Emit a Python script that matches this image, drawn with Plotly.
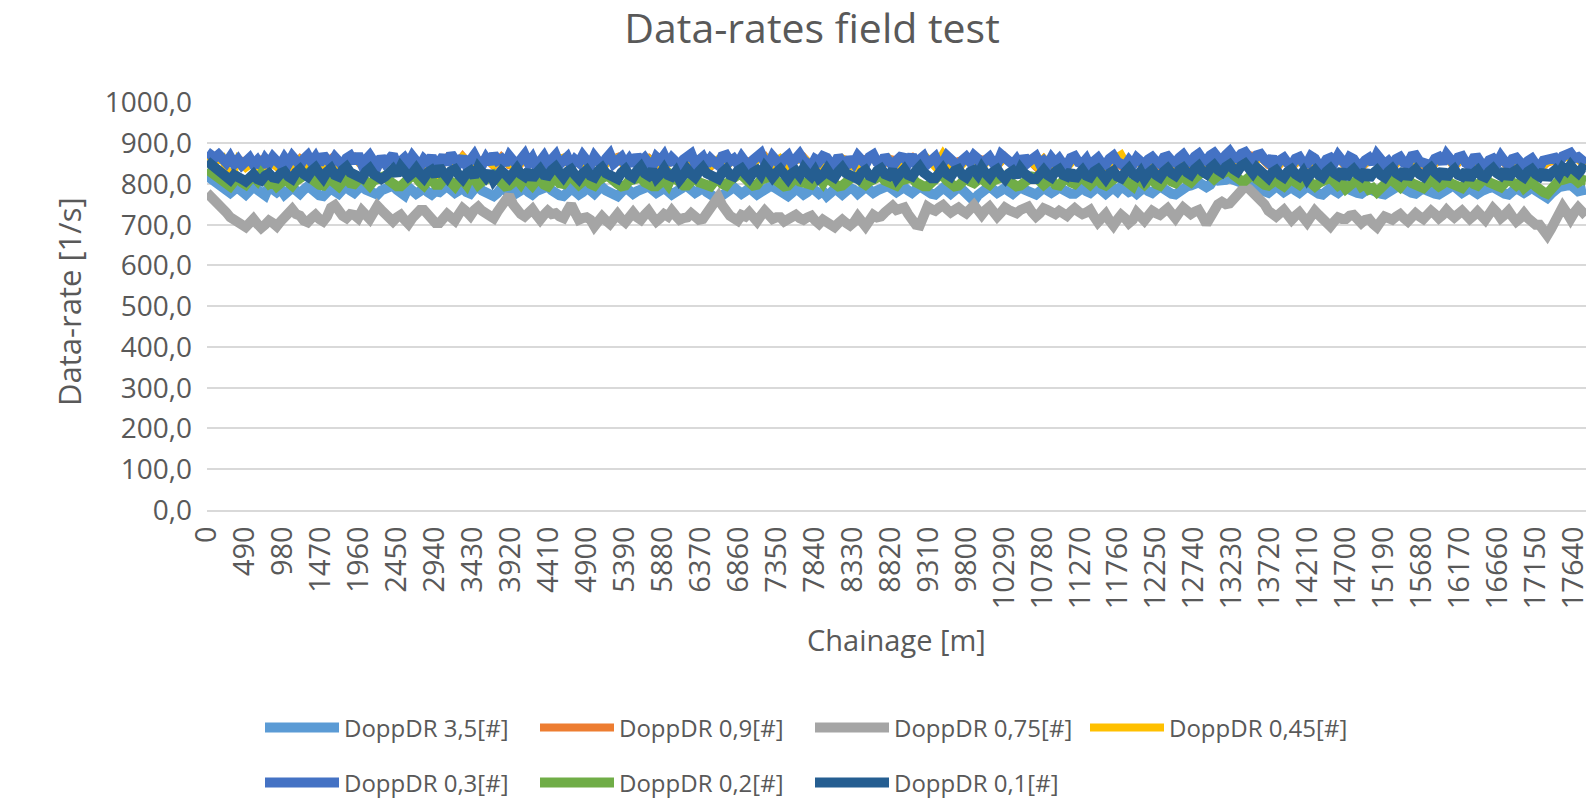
import plotly.graph_objects as go

# Chainage [m]: visible series read every 50 m, the two mostly hidden ones every 100 m
chainage = list(range(0, 17801, 50))
chainage_coarse = list(range(0, 17801, 100))

x_tick_vals = list(range(0, 17641, 490))
x_tick_labels = [str(v) for v in x_tick_vals]
y_tick_vals = list(range(0, 1001, 100))
y_tick_labels = [f"{v},0" for v in y_tick_vals]

dr_3_5 = [
    820, 812, 804, 798, 792, 784, 778, 786, 790, 782, 774, 784, 792, 786, 778, 772, 794, 786, 780, 788,
    774, 782, 790, 784, 776, 786, 794, 788, 778, 772, 770, 780, 790, 782, 776, 786, 792, 784, 778, 788,
    794, 786, 780, 776, 774, 784, 790, 796, 796, 786, 778, 772, 792, 784, 776, 782, 790, 780, 774, 782,
    780, 788, 794, 786, 778, 784, 790, 780, 776, 788, 792, 784, 778, 772, 770, 778, 790, 784, 794, 788,
    778, 784, 790, 780, 774, 782, 788, 792, 794, 784, 776, 772, 770, 780, 788, 782, 774, 780, 790, 784,
    776, 786, 792, 784, 778, 772, 770, 780, 790, 784, 776, 782, 788, 792, 794, 786, 778, 784, 790, 782,
    774, 780, 788, 792, 794, 786, 778, 784, 790, 780, 776, 770, 762, 772, 778, 786, 792, 784, 776, 782,
    790, 782, 774, 780, 788, 792, 794, 786, 778, 772, 770, 778, 788, 782, 774, 780, 790, 784, 776, 782,
    770, 778, 788, 782, 774, 782, 790, 786, 776, 784, 792, 786, 778, 784, 790, 792, 794, 786, 780, 786,
    792, 784, 778, 786, 794, 788, 780, 776, 774, 782, 790, 784, 776, 784, 792, 786, 778, 770, 758, 772,
    780, 788, 794, 786, 778, 784, 790, 782, 776, 784, 792, 786, 780, 776, 774, 782, 790, 784, 778, 784,
    794, 786, 780, 776, 776, 784, 790, 782, 778, 786, 792, 784, 776, 784, 790, 782, 794, 788, 780, 784,
    776, 784, 790, 782, 778, 786, 794, 788, 780, 776, 774, 782, 790, 794, 796, 800, 804, 798, 792, 798,
    812, 808, 806, 810, 814, 810, 808, 804, 800, 796, 792, 788, 784, 780, 778, 786, 794, 788, 780, 786,
    792, 784, 778, 786, 794, 788, 780, 776, 774, 782, 790, 784, 778, 786, 794, 786, 780, 778, 776, 782,
    790, 784, 778, 776, 774, 782, 790, 792, 794, 786, 780, 778, 776, 784, 790, 784, 778, 776, 774, 782,
    790, 792, 794, 786, 778, 784, 790, 782, 776, 782, 788, 790, 792, 786, 778, 776, 774, 782, 790, 784,
    778, 784, 792, 784, 776, 770, 766, 776, 788, 792, 794, 796, 798, 790, 782, 784, 786,
]

dr_0_9 = [
    872, 864, 862, 852, 858, 856, 854, 860, 856, 842,
    860, 840, 862, 844, 866, 846, 862, 840, 858, 866,
    844, 862, 856, 858, 864, 842, 860, 846, 856, 860,
    840, 864, 844, 868, 846, 856, 862, 844, 866, 846,
    840, 860, 866, 842, 854, 858, 864, 856, 860, 844,
    862, 852, 858, 866, 842, 860, 856, 864, 846, 838,
    862, 844, 836, 858, 866, 842, 860, 860, 864, 846,
    856, 860, 868, 842, 862, 858, 858, 866, 844, 852,
    858, 840, 862, 856, 858, 858, 864, 842, 862, 858,
    858, 866, 842, 862, 854, 860, 844, 856, 858, 864,
    860, 860, 844, 866, 846, 852, 860, 842, 862, 840,
    858, 852, 862, 844, 850, 858, 840, 860, 844, 846,
    858, 840, 860, 844, 862, 818, 866, 848, 868, 850,
    870, 852, 874, 856, 872, 870, 866, 846, 838, 858,
    840, 860, 844, 862, 838, 858, 864, 842, 860, 840,
    858, 866, 842, 838, 860, 844, 864, 846, 840, 860,
    866, 842, 862, 840, 858, 838, 856, 862, 840, 858,
    838, 856, 836, 852, 858, 862, 870, 860, 844,
]

dr_0_75 = [
    778, 770, 760, 752, 744, 730, 718, 712, 708, 700, 694, 704, 714, 702, 692, 700, 710, 704, 696, 708,
    720, 732, 738, 726, 722, 710, 706, 716, 724, 714, 708, 720, 742, 748, 730, 722, 716, 726, 724, 716,
    734, 724, 714, 730, 746, 736, 724, 714, 708, 718, 724, 712, 702, 716, 728, 736, 736, 722, 710, 704,
    704, 714, 726, 718, 710, 726, 740, 732, 722, 736, 744, 734, 726, 720, 716, 732, 748, 756, 772, 750,
    734, 726, 720, 730, 738, 724, 712, 724, 734, 726, 728, 720, 716, 734, 750, 730, 712, 716, 718, 712,
    696, 708, 720, 710, 702, 714, 726, 714, 706, 718, 730, 718, 712, 724, 734, 720, 708, 716, 726, 720,
    734, 722, 712, 716, 718, 728, 722, 712, 714, 726, 736, 750, 768, 748, 730, 722, 716, 710, 724, 720,
    730, 718, 708, 722, 734, 724, 714, 718, 718, 708, 716, 720, 724, 716, 712, 718, 722, 710, 702, 712,
    706, 698, 694, 704, 712, 704, 698, 706, 720, 708, 696, 710, 724, 718, 720, 730, 740, 746, 736, 740,
    742, 726, 706, 700, 698, 720, 744, 738, 734, 742, 748, 738, 730, 736, 742, 734, 728, 738, 748, 736,
    724, 736, 744, 732, 720, 730, 742, 736, 732, 728, 736, 744, 744, 730, 720, 728, 740, 736, 732, 726,
    734, 728, 722, 732, 740, 732, 726, 730, 736, 720, 706, 716, 726, 710, 698, 712, 724, 716, 704, 712,
    730, 720, 710, 722, 734, 728, 724, 732, 740, 728, 716, 730, 742, 734, 726, 732, 736, 720, 702, 718,
    740, 750, 756, 750, 752, 764, 772, 786, 794, 788, 778, 770, 764, 750, 734, 726, 720, 728, 736, 724,
    712, 722, 730, 718, 706, 720, 734, 724, 712, 704, 696, 708, 718, 714, 714, 722, 724, 714, 704, 712,
    714, 702, 694, 708, 720, 716, 712, 720, 726, 716, 708, 718, 728, 720, 714, 724, 734, 726, 716, 724,
    736, 726, 718, 726, 734, 724, 714, 722, 732, 722, 712, 726, 740, 730, 716, 724, 734, 720, 708, 716,
    728, 716, 704, 700, 700, 690, 674, 690, 710, 728, 744, 730, 714, 730, 742, 732, 722,
]

dr_0_45 = [
    870, 856, 864, 808, 860, 840, 854, 836, 858, 842,
    858, 842, 860, 846, 864, 848, 860, 842, 856, 864,
    846, 860, 842, 858, 864, 844, 860, 848, 840, 800,
    842, 862, 846, 866, 848, 840, 862, 846, 864, 848,
    842, 860, 864, 844, 838, 858, 864, 842, 860, 846,
    862, 840, 858, 864, 844, 860, 842, 862, 848, 840,
    862, 846, 838, 858, 864, 844, 860, 842, 862, 848,
    840, 860, 866, 844, 862, 842, 858, 864, 846, 838,
    858, 842, 862, 846, 838, 858, 862, 844, 862, 840,
    858, 864, 844, 862, 842, 874, 846, 838, 858, 864,
    842, 860, 846, 864, 848, 840, 860, 844, 862, 842,
    858, 840, 862, 846, 838, 858, 842, 860, 872, 838,
    858, 842, 860, 846, 862, 848, 864, 850, 866, 852,
    868, 854, 872, 858, 870, 852, 866, 848, 840, 858,
    842, 860, 846, 862, 840, 858, 864, 844, 860, 842,
    858, 864, 844, 840, 860, 846, 864, 848, 842, 860,
    864, 844, 862, 842, 858, 840, 856, 862, 842, 858,
    840, 856, 838, 854, 858, 862, 868, 860, 846,
]

dr_0_3 = [
    878, 870, 864, 872, 858, 852, 866, 849, 860, 846, 855, 864, 848, 858, 843, 862, 850, 866, 856, 847,
    864, 851, 868, 857, 846, 861, 870, 853, 866, 848, 872, 859, 850, 866, 855, 845, 863, 869, 852, 873,
    849, 862, 870, 855, 844, 866, 851, 860, 872, 847, 858, 864, 850, 868, 856, 843, 861, 852, 868, 846,
    854, 869, 848, 874, 860, 851, 866, 845, 858, 871, 853, 846, 864, 850, 873, 857, 862, 848, 869, 855,
    846, 860, 872, 851, 864, 843, 857, 868, 850, 862, 871, 848, 856, 866, 845, 860, 852, 870, 858, 847,
    868, 853, 844, 862, 873, 850, 858, 866, 848, 861, 846, 870, 855, 864, 851, 843, 866, 857, 870, 849,
    864, 851, 845, 860, 869, 874, 850, 858, 866, 847, 862, 853, 846, 868, 871, 855, 862, 849, 866, 853,
    844, 859, 866, 875, 852, 848, 868, 857, 846, 862, 870, 851, 864, 873, 858, 849, 843, 861, 855, 868,
    864, 850, 846, 868, 857, 842, 864, 851, 869, 858, 848, 866, 872, 853, 846, 869, 860, 844, 857, 866,
    864, 852, 871, 846, 860, 868, 849, 857, 866, 845, 852, 869, 861, 847, 843, 858, 866, 854, 870, 862,
    846, 858, 866, 851, 849, 872, 863, 855, 848, 860, 844, 867, 853, 861, 868, 849, 857, 846, 864, 852,
    862, 848, 845, 864, 868, 853, 850, 861, 842, 856, 864, 850, 847, 862, 869, 854, 850, 844, 858, 847,
    864, 852, 847, 860, 866, 855, 849, 865, 868, 857, 852, 864, 872, 858, 853, 867, 874, 860, 856, 870,
    876, 864, 858, 871, 880, 866, 862, 874, 878, 865, 857, 870, 873, 860, 852, 866, 844, 858, 864, 851,
    846, 862, 866, 851, 850, 868, 862, 846, 844, 860, 864, 852, 870, 858, 848, 866, 861, 847, 846, 858,
    864, 850, 872, 860, 848, 856, 844, 861, 866, 852, 850, 868, 870, 855, 852, 847, 846, 862, 866, 851,
    872, 860, 848, 865, 868, 851, 846, 863, 864, 849, 844, 858, 862, 850, 868, 855, 846, 861, 864, 853,
    844, 856, 862, 848, 842, 857, 858, 864, 864, 851, 868, 872, 876, 863, 866, 858, 850,
]

dr_0_2 = [
    836, 828, 822, 814, 808, 800, 794, 806, 814, 804, 798, 810, 818, 808, 824, 812, 800, 806, 794, 802,
    814, 804, 796, 808, 816, 822, 826, 812, 804, 798, 796, 808, 810, 800, 794, 806, 814, 802, 800, 810,
    816, 806, 796, 808, 810, 818, 820, 808, 800, 794, 794, 806, 812, 820, 816, 804, 796, 808, 810, 798,
    798, 810, 816, 804, 794, 808, 810, 798, 820, 812, 798, 806, 808, 816, 822, 810, 800, 794, 796, 808,
    812, 800, 816, 806, 796, 808, 810, 798, 794, 806, 814, 802, 800, 812, 820, 808, 798, 806, 812, 800,
    796, 808, 814, 820, 816, 804, 800, 794, 796, 808, 812, 818, 816, 804, 798, 794, 794, 806, 810, 798,
    820, 812, 804, 796, 796, 808, 816, 804, 800, 792, 794, 806, 812, 800, 796, 808, 816, 822, 822, 810,
    804, 796, 798, 810, 814, 820, 820, 808, 802, 794, 796, 808, 816, 806, 804, 796, 798, 810, 814, 802,
    818, 808, 800, 794, 796, 808, 812, 818, 816, 804, 798, 806, 810, 818, 820, 808, 804, 796, 796, 808,
    810, 818, 816, 804, 798, 794, 794, 806, 812, 820, 820, 808, 800, 794, 796, 808, 814, 806, 802, 810,
    816, 804, 798, 808, 812, 820, 820, 808, 800, 794, 796, 806, 812, 818, 816, 804, 798, 806, 810, 798,
    796, 808, 814, 804, 800, 810, 816, 806, 798, 808, 812, 800, 796, 804, 810, 818, 816, 806, 800, 794,
    814, 804, 798, 808, 810, 800, 796, 808, 816, 806, 802, 812, 820, 810, 804, 814, 824, 830, 830, 820,
    812, 820, 826, 834, 834, 822, 814, 808, 808, 818, 824, 812, 804, 798, 796, 806, 810, 800, 794, 804,
    812, 804, 798, 808, 814, 802, 794, 802, 808, 814, 816, 806, 796, 802, 788, 796, 806, 810, 794, 800,
    786, 790, 780, 788, 802, 808, 808, 798, 792, 804, 812, 802, 796, 790, 790, 800, 810, 802, 794, 800,
    812, 802, 796, 790, 790, 802, 810, 800, 796, 806, 814, 804, 798, 792, 792, 802, 812, 804, 796, 804,
    790, 798, 806, 794, 784, 780, 776, 790, 802, 808, 810, 814, 816, 812, 804, 810, 808,
]

dr_0_1 = [
    856, 848, 842, 834, 826, 818, 810, 822, 820, 812, 806, 818, 824, 812, 808, 820, 826, 816, 814, 826,
    830, 818, 812, 828, 836, 824, 818, 832, 840, 826, 814, 830, 838, 822, 818, 834, 842, 828, 822, 816,
    814, 830, 838, 824, 820, 812, 818, 832, 836, 822, 842, 830, 818, 826, 838, 824, 814, 828, 834, 820,
    842, 828, 816, 832, 836, 822, 812, 826, 832, 818, 840, 828, 816, 830, 808, 820, 832, 824, 814, 826,
    838, 824, 818, 832, 812, 826, 836, 822, 820, 834, 842, 828, 816, 830, 836, 822, 812, 826, 834, 820,
    816, 832, 840, 826, 820, 814, 812, 828, 836, 822, 816, 832, 842, 826, 820, 834, 814, 824, 838, 822,
    818, 830, 810, 822, 836, 824, 816, 830, 840, 826, 820, 814, 812, 828, 836, 822, 818, 832, 838, 824,
    814, 828, 834, 822, 842, 830, 816, 828, 836, 824, 812, 826, 832, 820, 838, 826, 818, 832, 814, 822,
    836, 822, 816, 830, 840, 826, 820, 814, 812, 828, 834, 820, 816, 832, 838, 824, 820, 834, 814, 826,
    836, 822, 818, 832, 842, 828, 820, 814, 814, 830, 838, 824, 818, 832, 836, 822, 816, 830, 834, 822,
    840, 826, 816, 830, 836, 822, 812, 826, 832, 818, 838, 826, 818, 812, 812, 828, 834, 822, 816, 830,
    836, 822, 818, 832, 810, 824, 834, 820, 816, 830, 836, 824, 812, 826, 832, 818, 814, 828, 838, 824,
    818, 830, 812, 826, 834, 822, 816, 830, 838, 826, 820, 834, 840, 828, 822, 836, 844, 830, 824, 838,
    846, 834, 828, 842, 848, 836, 830, 844, 850, 838, 826, 840, 832, 822, 814, 828, 834, 822, 816, 830,
    836, 824, 818, 830, 812, 826, 834, 822, 816, 830, 838, 826, 820, 834, 814, 828, 836, 824, 818, 832,
    812, 826, 834, 822, 816, 830, 838, 826, 820, 834, 814, 828, 836, 824, 818, 832, 840, 828, 820, 834,
    814, 828, 836, 822, 818, 832, 812, 826, 834, 820, 816, 830, 838, 826, 820, 834, 814, 828, 834, 822,
    816, 830, 836, 824, 818, 832, 812, 826, 834, 822, 840, 832, 846, 834, 826, 838, 834,
]

series = [
    ("DoppDR 3,5[#]", chainage, dr_3_5, "#5B9BD5", "legend"),
    ("DoppDR 0,9[#]", chainage_coarse, dr_0_9, "#ED7D31", "legend"),
    ("DoppDR 0,75[#]", chainage, dr_0_75, "#A5A5A5", "legend"),
    ("DoppDR 0,45[#]", chainage_coarse, dr_0_45, "#FFC000", "legend"),
    ("DoppDR 0,3[#]", chainage, dr_0_3, "#4472C4", "legend2"),
    ("DoppDR 0,2[#]", chainage, dr_0_2, "#70AD47", "legend2"),
    ("DoppDR 0,1[#]", chainage, dr_0_1, "#255E91", "legend2"),
]
for name, xs, vals, _, _ in series:
    assert len(xs) == len(vals), (name, len(xs), len(vals))

FONT = "Open Sans"
GREY_TXT = "#595959"
# the page body has an 8 px margin, so screen positions are shifted by 8 px
OFF = 8

fig = go.Figure()
for name, xs, vals, color, leg in series:
    fig.add_trace(go.Scatter(
        x=xs, y=vals, name=name, mode="lines",
        line=dict(color=color, width=10 if xs is chainage else 8), legend=leg,
    ))

legend_style = dict(
    orientation="h", xref="container", yref="container",
    x=(260 - OFF) / 1595, xanchor="left", yanchor="middle",
    entrywidth=186, itemwidth=74, bgcolor="rgba(0,0,0,0)",
    font=dict(family=FONT, size=24, color=GREY_TXT),
)

fig.update_layout(
    width=1595, height=799,
    margin=dict(l=207 - OFF, r=9 + OFF, t=102 - OFF, b=289 + OFF),
    paper_bgcolor="white", plot_bgcolor="white",
    font=dict(family=FONT, color=GREY_TXT),
    title=dict(text="Data-rates field test", x=(812 - OFF) / 1595, xanchor="center",
               y=1 - (29 - OFF) / 799, yanchor="middle",
               font=dict(family=FONT, size=41, color=GREY_TXT)),
    legend=dict(legend_style, y=1 - (728 - OFF) / 799),
    legend2=dict(legend_style, y=1 - (783 - OFF) / 799),
    annotations=[
        dict(text="Data-rate [1/s]", xref="paper", yref="paper",
             x=(69 - 207) / 1379, y=0.51, xanchor="center", yanchor="middle",
             textangle=-90, showarrow=False,
             font=dict(family=FONT, size=31, color=GREY_TXT)),
        dict(text="Chainage [m]", xref="paper", yref="paper",
             x=0.5, y=(510 - 639) / 408, yanchor="middle", showarrow=False,
             font=dict(family=FONT, size=29, color=GREY_TXT)),
    ],
)

fig.update_xaxes(
    range=[0, 17800], tickvals=x_tick_vals, ticktext=x_tick_labels,
    tickangle=-90, showgrid=False, zeroline=False, ticks="",
    showline=True, linecolor="#D9D9D9", linewidth=1.5,
    ticklabelstandoff=3, tickfont=dict(family=FONT, size=29, color=GREY_TXT),
)
fig.update_yaxes(
    range=[0, 1001], tickvals=y_tick_vals, ticktext=y_tick_labels,
    showgrid=True, gridcolor="#D9D9D9", gridwidth=1.5, zeroline=False,
    ticks="", ticklabelstandoff=14,
    tickfont=dict(family=FONT, size=28, color=GREY_TXT),
)

fig.write_html("out.html")
